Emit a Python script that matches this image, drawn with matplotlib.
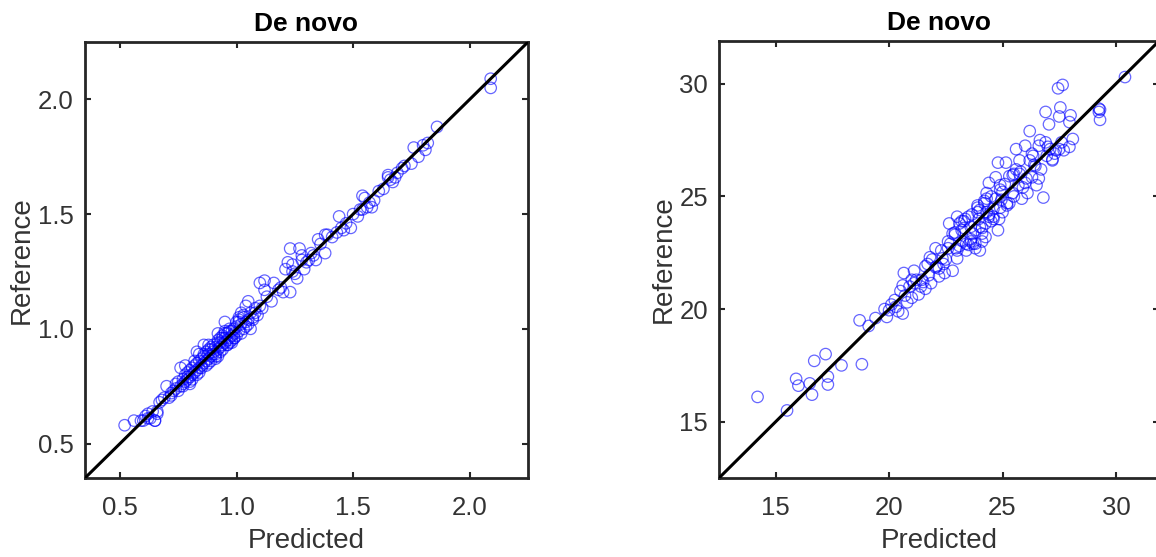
import matplotlib
matplotlib.use("Agg")
import matplotlib.pyplot as plt

plt.rcParams['font.family'] = ['Liberation Sans', 'DejaVu Sans']

# left panel: predicted vs reference values
pred_a = [0.52, 0.56, 0.60, 0.61, 0.62, 0.63, 0.65, 0.66, 0.64, 0.65, 0.66, 0.67,
          0.70, 0.72, 0.75, 0.73, 0.76, 0.78, 0.79, 0.80, 0.78, 0.82, 0.84, 0.83,
          0.86, 0.88, 0.90, 0.92, 0.93, 0.95, 0.95, 0.96, 0.98, 0.99, 1.01, 1.02,
          1.04, 1.05, 1.06, 1.04, 1.08, 1.10, 1.12, 1.12, 1.15, 1.16, 1.19, 1.21,
          1.22, 1.23, 1.24, 1.23, 1.27, 1.28, 1.29, 1.32, 1.34, 1.35, 1.38, 1.38,
          1.39, 1.41, 1.44, 1.45, 1.46, 1.49, 1.50, 1.52, 1.54, 1.55, 1.54, 1.56,
          1.58, 1.59, 1.63, 1.65, 1.65, 1.67, 1.68, 1.71, 1.72, 1.75, 1.76, 1.78,
          1.81, 1.82, 1.86, 2.09, 2.09,
          0.74, 0.76, 0.77, 0.78, 0.79, 0.80, 0.80, 0.81, 0.82, 0.82, 0.83, 0.84,
          0.84, 0.85, 0.85, 0.86, 0.86, 0.87, 0.87, 0.88, 0.88, 0.89, 0.89, 0.90,
          0.90, 0.91, 0.91, 0.92, 0.92, 0.93, 0.93, 0.94, 0.94, 0.95, 0.95, 0.96,
          0.96, 0.97, 0.97, 0.98, 0.98, 0.99, 1.00, 1.00, 1.01, 1.02, 1.03, 1.03,
          1.05, 1.06, 1.07, 1.08, 1.10, 1.09, 0.71, 0.69, 0.75, 0.77, 0.81, 0.83,
          0.87, 0.89, 0.91, 0.94, 0.97, 0.99, 1.01, 1.04, 1.13, 1.18, 1.20, 1.25,
          1.26, 1.30, 1.31, 1.36, 1.43, 1.47, 1.53, 1.57, 1.61, 1.66, 1.69, 1.80,
          0.59, 0.62, 0.68, 0.72, 0.74, 0.77, 0.79, 0.81, 0.83, 0.85, 0.86, 0.88,
          0.89, 0.91, 0.92, 0.93, 0.94, 0.96, 0.97, 0.99, 1.00, 1.02, 1.03, 1.05,
          1.07, 0.80, 0.84, 0.88, 0.92, 0.95, 0.98, 1.01, 1.11, 1.24, 1.28, 1.33]
ref_a = [0.58, 0.60, 0.60, 0.62, 0.63, 0.61, 0.60, 0.63, 0.64, 0.60, 0.64, 0.68,
         0.75, 0.72, 0.77, 0.73, 0.83, 0.80, 0.79, 0.76, 0.84, 0.84, 0.89, 0.90,
         0.93, 0.93, 0.89, 0.98, 0.96, 0.99, 1.03, 0.93, 0.95, 1.00, 1.05, 1.07,
         1.10, 1.12, 1.00, 1.03, 1.07, 1.20, 1.21, 1.17, 1.12, 1.20, 1.18, 1.26,
         1.29, 1.35, 1.28, 1.16, 1.35, 1.32, 1.26, 1.33, 1.30, 1.39, 1.33, 1.41,
         1.41, 1.40, 1.49, 1.44, 1.43, 1.44, 1.50, 1.49, 1.58, 1.57, 1.52, 1.53,
         1.53, 1.56, 1.61, 1.67, 1.66, 1.64, 1.66, 1.70, 1.71, 1.72, 1.79, 1.75,
         1.78, 1.81, 1.88, 2.09, 2.05,
         0.74, 0.75, 0.78, 0.77, 0.81, 0.79, 0.82, 0.80, 0.81, 0.86, 0.82, 0.83,
         0.86, 0.84, 0.87, 0.85, 0.88, 0.86, 0.90, 0.87, 0.89, 0.88, 0.92, 0.90,
         0.93, 0.89, 0.92, 0.91, 0.95, 0.92, 0.94, 0.93, 0.97, 0.94, 0.96, 0.95,
         0.98, 0.96, 1.00, 0.97, 0.99, 0.98, 0.97, 1.01, 0.99, 1.02, 1.00, 1.05,
         1.04, 1.07, 1.05, 1.09, 1.10, 1.06, 0.70, 0.70, 0.73, 0.75, 0.78, 0.80,
         0.84, 0.86, 0.87, 0.91, 0.94, 0.96, 1.03, 1.01, 1.14, 1.17, 1.16, 1.24,
         1.22, 1.29, 1.30, 1.37, 1.42, 1.46, 1.52, 1.55, 1.60, 1.65, 1.68, 1.80,
         0.60, 0.61, 0.69, 0.71, 0.76, 0.76, 0.78, 0.83, 0.85, 0.83, 0.89, 0.85,
         0.91, 0.88, 0.94, 0.90, 0.96, 0.93, 0.99, 0.96, 1.03, 0.98, 1.06, 1.02,
         1.04, 0.77, 0.81, 0.91, 0.88, 0.98, 0.94, 1.04, 1.09, 1.25, 1.30, 1.32]

# right panel
pred_b = [14.2, 15.5, 15.9, 16.0, 16.5, 16.6, 16.7, 17.2, 17.3, 17.3, 17.9, 18.7,
          18.8, 19.1, 19.4, 19.8, 19.9, 20.0, 20.25, 20.4, 20.6, 20.6, 20.65, 20.8,
          21.0, 21.1, 21.1, 21.3, 21.45, 21.6, 21.7, 21.75, 21.85, 22.05, 22.05, 22.2,
          22.35, 22.45, 22.6, 22.65, 22.8, 22.8, 22.95, 23.0, 23.0, 23.2, 23.25, 23.35,
          23.5, 23.6, 23.65, 23.7, 23.8, 23.9, 23.95, 24.0, 24.0, 24.1, 24.25, 24.25,
          24.3, 24.3, 24.4, 24.5, 24.6, 24.7, 24.8, 24.8, 24.85, 24.95, 25.0, 25.1,
          25.15, 25.3, 25.45, 25.45, 25.6, 25.7, 25.75, 25.75, 25.85, 26.0, 26.05, 26.1,
          26.2, 26.3, 26.35, 26.45, 26.5, 26.6, 26.65, 26.8, 26.9, 26.95, 27.05, 27.1,
          27.2, 27.35, 27.45, 27.5, 27.55, 27.65, 27.6, 27.7, 27.95, 28.0, 27.95, 28.1,
          29.25, 29.25, 29.3, 29.3, 30.4,
          20.1, 20.3, 20.5, 20.9, 21.2, 21.4, 21.9, 22.1, 22.3, 22.5, 22.7, 22.9,
          23.1, 23.3, 23.4, 23.5, 23.6, 23.8, 23.9, 24.0, 24.1, 24.2, 24.4, 24.5,
          24.6, 24.7, 24.9, 25.0, 25.2, 25.3, 25.5, 25.8, 26.0, 26.4, 26.7, 27.0,
          27.3, 21.6, 22.4, 23.2, 23.7, 24.2, 24.9, 25.6, 26.2, 22.9, 23.4, 24.4,
          20.7, 21.0, 21.5, 21.8, 22.2, 22.6, 23.0, 23.3, 23.6, 23.9, 24.1, 24.3,
          24.6, 24.9, 25.2, 25.5, 25.9, 26.3, 26.6, 26.9, 27.2, 27.5, 23.1, 23.8]
ref_b = [16.1, 15.5, 16.9, 16.6, 16.7, 16.2, 17.7, 18.0, 17.0, 16.65, 17.5, 19.5,
         17.55, 19.25, 19.6, 20.0, 19.65, 19.95, 20.4, 19.9, 19.8, 21.05, 21.6, 20.3,
         20.5, 21.7, 21.15, 20.65, 21.3, 20.9, 22.0, 21.5, 21.15, 21.85, 22.7, 21.45,
         22.25, 21.6, 22.7, 23.8, 21.7, 23.35, 22.7, 22.25, 24.1, 23.5, 23.0, 24.0,
         22.85, 23.65, 24.2, 23.35, 22.7, 24.6, 24.0, 23.65, 22.6, 23.35, 23.8, 23.2,
         24.3, 25.15, 25.6, 23.9, 24.45, 25.85, 23.5, 26.5, 24.0, 24.85, 24.3, 25.55,
         26.5, 24.7, 25.15, 25.95, 27.1, 25.5, 26.0, 26.6, 24.9, 27.25, 25.8, 25.15,
         27.9, 25.85, 26.8, 26.35, 25.5, 27.25, 27.5, 24.95, 28.75, 26.8, 28.2, 27.1,
         26.65, 27.05, 29.8, 28.55, 28.95, 29.95, 27.4, 27.05, 27.2, 28.6, 28.3, 27.55,
         28.9, 28.75, 28.4, 28.85, 30.3,
         20.2, 20.1, 20.8, 21.0, 21.3, 21.0, 22.2, 21.9, 22.6, 22.2, 22.9, 23.3,
         22.8, 23.6, 22.9, 24.1, 23.1, 23.5, 24.3, 24.4, 23.0, 24.7, 24.2, 25.0,
         24.0, 24.9, 25.3, 25.2, 24.6, 25.9, 25.0, 26.1, 25.6, 26.4, 26.2, 27.2,
         26.9, 21.9, 22.0, 23.9, 22.9, 24.8, 24.5, 26.2, 26.6, 23.4, 22.6, 24.1,
         20.6, 21.3, 21.2, 22.3, 21.8, 23.0, 22.6, 23.9, 23.0, 24.5, 23.6, 24.9,
         24.1, 25.5, 24.7, 26.0, 25.4, 26.9, 25.8, 27.4, 26.6, 27.1, 23.8, 22.9]

text_col = '#333333'


def style_axes(ax, lims, ticks, ticklabels):
    ax.set_xlim(lims)
    ax.set_ylim(lims)
    ax.set_xticks(ticks)
    ax.set_yticks(ticks)
    ax.set_xticklabels(ticklabels)
    ax.set_yticklabels(ticklabels)
    ax.tick_params(direction='in', top=True, right=True, length=4, width=1.5,
                   labelsize=18.5, colors='#262626', labelcolor=text_col, pad=8)
    ax.tick_params(axis='x', pad=13)
    for s in ax.spines.values():
        s.set_linewidth(2.0)
        s.set_color('#262626')
    ax.set_xlabel('Predicted', fontsize=20, color=text_col, labelpad=6)
    ax.set_ylabel('Reference', fontsize=20, color=text_col, labelpad=2)
    ax.set_title('De novo', fontsize=19, fontweight='bold', pad=8)


fig = plt.figure(figsize=(11.56, 5.57), dpi=100)
ax1 = fig.add_axes([85/1156, 79/557, 443/1156, 436/557])
ax2 = fig.add_axes([719/1156, 79/557, 440/1156, 437/557])

ax1.scatter(pred_a, ref_a, s=68, facecolors='none', edgecolors=(0, 0, 1, 0.6), linewidths=0.9, zorder=2)
ax1.axline((0, 0), slope=1, c='k', lw=2.2, zorder=3)
style_axes(ax1, (0.35, 2.25), [0.5, 1.0, 1.5, 2.0], ['0.5', '1.0', '1.5', '2.0'])

ax2.scatter(pred_b, ref_b, s=68, facecolors='none', edgecolors=(0, 0, 1, 0.6), linewidths=0.9, zorder=2)
ax2.axline((0, 0), slope=1, c='k', lw=2.2, zorder=3)
style_axes(ax2, (12.5, 31.9), [15, 20, 25, 30], ['15', '20', '25', '30'])

fig.savefig('out.png', dpi=100)
